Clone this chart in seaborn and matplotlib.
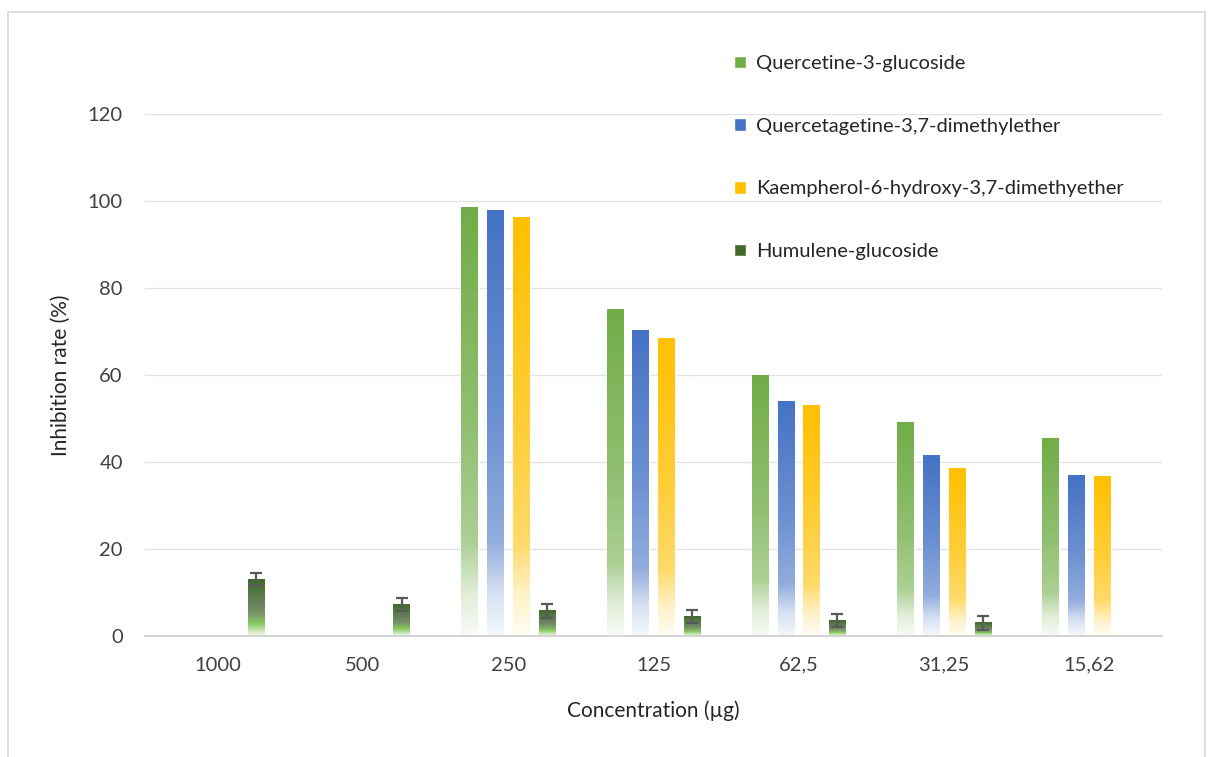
import numpy as np
import pandas as pd
import seaborn as sns
import matplotlib.pyplot as plt
from matplotlib.colors import LinearSegmentedColormap, to_rgb
from matplotlib.patches import Patch, Rectangle

#################
## Data
#################
concentrations = ["1000", "500", "250", "125", "62,5", "31,25", "15,62"]
compounds = ["Quercetine-3-glucoside", "Quercetagetine-3,7-dimethylether",
             "Kaempherol-6-hydroxy-3,7-dimethyether", "Humulene-glucoside"]
quercetine = [np.nan, np.nan, 98.4, 75.0, 60.0, 49.0, 45.3]
quercetagetine = [np.nan, np.nan, 97.9, 70.2, 54.0, 41.6, 37.0]
kaempherol = [np.nan, np.nan, 96.1, 68.5, 53.0, 38.4, 36.6]
humulene = [13.1, 7.2, 5.8, 4.5, 3.5, 3.0, np.nan]
humulene_err = [1.3, 1.5, 1.6, 1.5, 1.5, 1.6, np.nan]

colors = ["#70AD47", "#4472C4", "#FFC000", "#3F6B2A"]

df = pd.DataFrame({
    "Concentration": concentrations * 4,
    "Compound": np.repeat(compounds, len(concentrations)),
    "Rate": quercetine + quercetagetine + kaempherol + humulene,
})

## gradient colormaps (top = solid colour, bottom = nearly white)
def fade_cmap(hex_color):
    c = np.array(to_rgb(hex_color))
    stops = [(0.0, 1.0), (0.5, 0.78), (0.78, 0.58), (0.9, 0.22), (1.0, 0.05)]
    return LinearSegmentedColormap.from_list(
        hex_color, [(t, tuple(c * a + (1 - a))) for t, a in stops])

cmaps = [fade_cmap(c) for c in colors[:3]]
cmaps.append(LinearSegmentedColormap.from_list("hum", [
    (0.0, "#3F6B2A"), (0.4, "#64805A"), (0.58, "#7A9068"),
    (0.78, "#86C960"), (0.9, "#C6E6B2"), (1.0, "#F4FAF0")]))

###################
## Bar plot
###################
sns.set_style("white")
plt.rcParams['font.family'] = ['Lato', 'DejaVu Sans']
fs = 14.5

fig = plt.figure(figsize=(12.12, 7.57), dpi=100)
ax = fig.add_axes([145 / 1212, 1 - 636 / 757, (1162 - 145) / 1212, (636 - 114) / 757])

sns.barplot(data=df, x="Concentration", y="Rate", hue="Compound",
            order=concentrations, hue_order=compounds, palette=colors,
            width=0.71, gap=0.36, errorbar=None, legend=False, ax=ax)

grad = np.linspace(0, 1, 256).reshape(-1, 1)
for cont, cmap, name in zip(ax.containers, cmaps, compounds):
    for p in cont.patches:
        h = p.get_height()
        if not np.isfinite(h):
            continue
        x0, w = p.get_x(), p.get_width()
        ax.imshow(grad, cmap=cmap, extent=[x0, x0 + w, 0, h], origin='upper',
                  aspect='auto', zorder=2, interpolation='bilinear')
        p.set_facecolor('none')
        if name == "Humulene-glucoside":
            idx = int(round(x0 + w / 2))
            ax.errorbar(x0 + w / 2, h, yerr=humulene_err[idx], color='#595959',
                        lw=1.6, capsize=4.5, capthick=1.6, zorder=3)

ax.set_xlim(-0.5, 6.5)
ax.set_ylim(0, 120)
ax.set_yticks(range(0, 121, 20))
ax.yaxis.grid(True, color='#e3e3e3', lw=1)
ax.set_axisbelow(True)
for s in ['left', 'right', 'top']:
    ax.spines[s].set_visible(False)
ax.spines['bottom'].set_color('#d0d0d0')
ax.spines['bottom'].set_linewidth(1.3)
ax.tick_params(axis='both', length=0, labelsize=fs, labelcolor='#404040')
ax.tick_params(axis='y', pad=16)
ax.tick_params(axis='x', pad=15)
ax.set_xlabel("Concentration (µg)", fontsize=15, color='#262626', labelpad=19)
ax.set_ylabel("Inhibition rate (%)", fontsize=15, color='#262626', labelpad=12)

handles = [Patch(facecolor=c) for c in colors]
fig.legend(handles, compounds, loc='upper left',
           bbox_to_anchor=(734 / 1212, 1 - 55 / 757), frameon=False,
           fontsize=fs, handlelength=0.6, handleheight=0.6, handletextpad=0.5,
           labelspacing=2.27, borderpad=0, borderaxespad=0, labelcolor='#262626')

fig.patches.append(Rectangle((8 / 1212, -0.01), (1205 - 8) / 1212, 1.01 - 12 / 757,
                             transform=fig.transFigure, fill=False,
                             edgecolor='#d9d9d9', lw=1.2))

plt.savefig("out.png", dpi=100)
plt.close()
